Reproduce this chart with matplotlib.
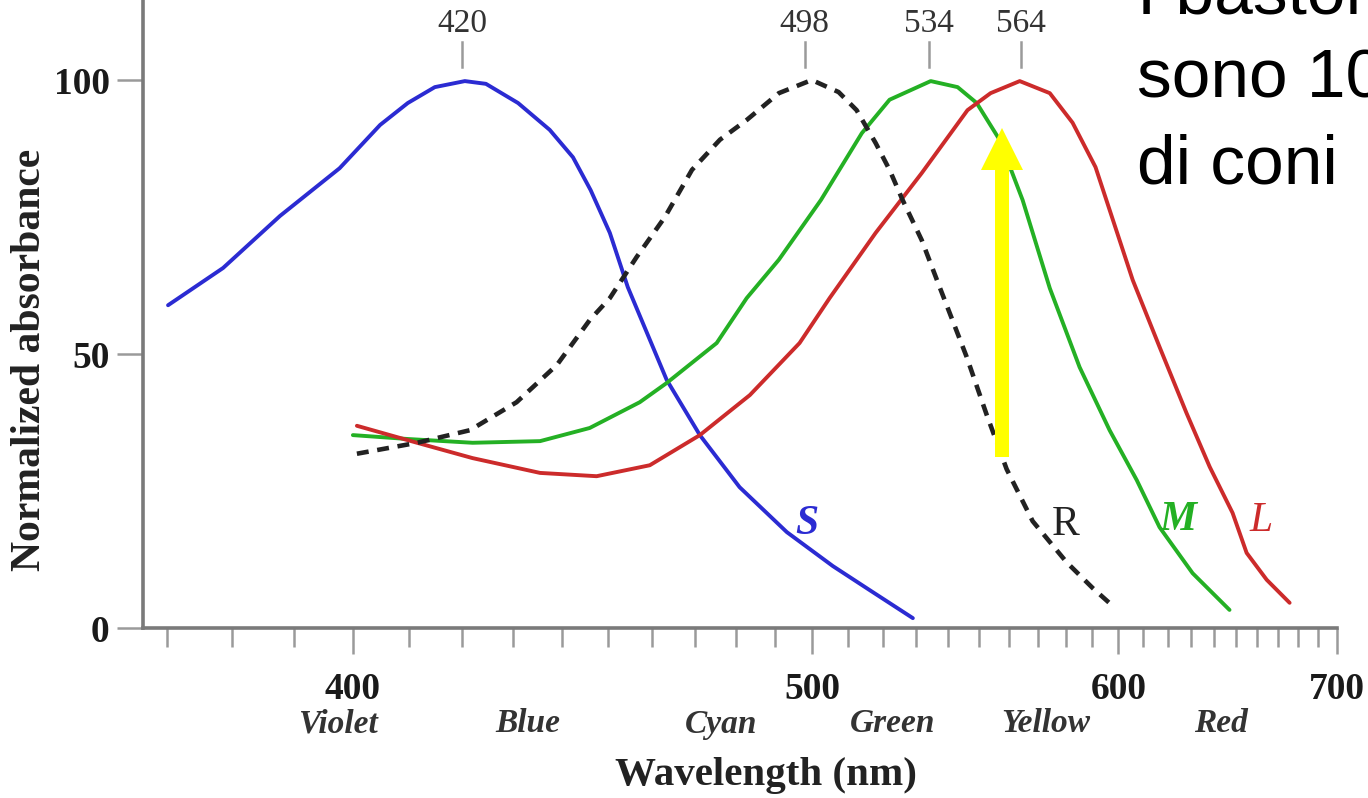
import numpy as np
import matplotlib
matplotlib.use("Agg")
import matplotlib.pyplot as plt
from matplotlib.patches import FancyArrow
from matplotlib.transforms import blended_transform_factory

# ---------------- data ----------------
s_wl = [370.2, 378.6, 387.7, 397.7, 404.8, 409.8, 414.8, 420.5, 424.6, 431.0, 437.5,
        442.4, 446.2, 450.4, 454.4, 463.3, 471.2, 481.0, 493.2, 505.7, 516.2, 529.0]
s_abs = [58.9, 65.7, 75.2, 83.9, 91.8, 95.8, 98.7, 99.8, 99.3, 95.8, 90.9,
         85.9, 79.9, 72.1, 62.2, 45.3, 35.2, 25.7, 17.5, 11.3, 6.9, 1.8]

r_wl = [400.7, 411.5, 421.5, 430.7, 439.0, 446.0, 450.4, 456.4, 462.9, 469.3, 476.1,
        482.8, 491.1, 499.9, 507.3, 512.4, 517.9, 522.0, 525.9, 531.7, 537.3, 545.9,
        552.5, 559.2, 568.2, 580.4, 590.1, 597.4]
r_abs = [31.8, 33.8, 36.1, 41.2, 48.0, 56.2, 60.2, 67.7, 75.0, 83.6, 89.1,
         92.7, 97.6, 100.0, 97.8, 94.5, 88.5, 83.6, 78.1, 70.8, 62.2, 49.5,
         38.9, 29.0, 19.5, 12.0, 7.3, 4.2]

m_wl = [400.0, 409.6, 422.0, 435.5, 446.0, 457.1, 463.3, 475.3, 482.8, 491.1, 502.4,
        513.9, 522.0, 534.5, 543.0, 549.2, 556.8, 564.7, 574.3, 585.2, 596.6, 607.3,
        616.6, 630.6, 647.0]
m_abs = [35.2, 34.5, 33.8, 34.1, 36.5, 41.2, 44.7, 52.0, 60.2, 67.2, 78.1,
         90.3, 96.4, 99.8, 98.7, 95.8, 89.1, 78.1, 62.0, 47.6, 36.1, 27.0,
         18.4, 10.0, 3.3]

l_wl = [400.7, 411.5, 422.0, 435.5, 447.5, 459.4, 471.2, 483.6, 496.6, 504.8, 517.9,
        531.7, 546.2, 553.8, 563.7, 574.3, 582.6, 591.2, 605.7, 616.6, 628.0, 638.1,
        648.4, 654.9, 664.4, 675.6]
l_abs = [36.9, 33.8, 31.0, 28.3, 27.7, 29.7, 35.2, 42.5, 52.0, 60.2, 72.1,
         83.0, 94.5, 97.6, 99.8, 97.6, 92.2, 84.1, 63.5, 51.3, 39.2, 29.4,
         21.0, 13.7, 8.8, 4.6]

peak_wl = [420, 498, 534, 564]
x_major = [400, 500, 600, 700]
x_minor = [w for w in range(370, 700, 10) if w not in (400, 500, 600)]
y_ticks = [0, 50, 100]
color_names = ["Violet", "Blue", "Cyan", "Green", "Yellow", "Red"]
color_name_wl = [397.4, 433.0, 476.3, 522.9, 572.8, 643.0]
curve_labels = ["S", "R", "M", "L"]
curve_label_wl = [498.5, 580.0, 624.2, 661.5]
curve_label_y = [19.0, 18.8, 19.7, 19.5]
right_text = ["I bastoncelli", "sono 10", "di coni"]

# ---------------- figure ----------------
plt.rcParams["font.family"] = ["Liberation Serif", "DejaVu Serif"]
W, H = 1368, 798
fig = plt.figure(figsize=(W / 100, H / 100), dpi=100)
fig.patch.set_facecolor("white")

ax = fig.add_axes([143 / W, (H - 628) / H, (1337 - 143) / W, 628 / H])


def fwd(x):
    x = np.asarray(x, dtype=float)
    with np.errstate(divide="ignore", invalid="ignore"):
        return -1.0 / x


def inv(v):
    v = np.asarray(v, dtype=float)
    with np.errstate(divide="ignore", invalid="ignore"):
        return -1.0 / v


ax.set_xscale("function", functions=(fwd, inv))
ax.set_xlim(366.5, 700)
ax.set_ylim(0, 628 / 5.48)

blue = "#2b2bd2"
green = "#24b024"
red = "#cc2b2b"
dark = "#222222"

kw = dict(lw=2.8, solid_capstyle="round", solid_joinstyle="round", zorder=3)
ax.plot(s_wl, s_abs, color=blue, **kw)
ax.plot(m_wl, m_abs, color=green, **kw)
ax.plot(l_wl, l_abs, color=red, **kw)
ax.plot(r_wl, r_abs, color=dark, lw=3.3, linestyle=(0, (2.6, 1.9)), zorder=3)

for sp in ("top", "right"):
    ax.spines[sp].set_visible(False)
for sp in ("left", "bottom"):
    ax.spines[sp].set_color("#7a7a7a")
    ax.spines[sp].set_linewidth(2.6)

ax.set_yticks(y_ticks)
ax.set_yticklabels([str(v) for v in y_ticks], fontweight="bold")
ax.tick_params(axis="y", direction="out", length=19, width=1.8, color="#9a9a9a",
               pad=5, labelsize=27, labelcolor="#1a1a1a")

ax.set_xticks(x_major)
ax.set_xticklabels([str(v) for v in x_major], fontweight="bold")
ax.set_xticks(x_minor, minor=True)
ax.tick_params(axis="x", which="major", direction="out", length=19, width=1.8,
               color="#9a9a9a", pad=13, labelsize=27, labelcolor="#1a1a1a")
ax.tick_params(axis="x", which="minor", direction="out", length=14, width=1.8,
               color="#9a9a9a")

# peak markers at the top
for wl in peak_wl:
    ax.plot([wl, wl], [102.4, 106.9], color="#9a9a9a", lw=1.8, clip_on=False)
    ax.text(wl, 110.2, str(wl), ha="center", va="center", fontsize=24,
            color="#333333", clip_on=False)

# colour names under the axis
tr = blended_transform_factory(ax.transData, ax.transAxes)
for name, wl in zip(color_names, color_name_wl):
    ax.text(wl, (628 - 724) / 628, name, transform=tr, ha="center", va="center",
            fontsize=24, style="italic", fontweight="bold", color="#333333")

# curve labels
lab_colors = [blue, dark, green, red]
lab_style = ["italic", "normal", "italic", "italic"]
lab_weight = ["bold", "normal", "bold", "normal"]
for t, wl, yv, c, st, fw in zip(curve_labels, curve_label_wl, curve_label_y,
                                lab_colors, lab_style, lab_weight):
    ax.text(wl, yv, t, ha="center", va="center", fontsize=30, color=c,
            style=st, fontweight=fw)

# axis titles
fig.text(766 / W, 1 - 775 / H, "Wavelength (nm)", ha="center", va="center",
         fontsize=29.5, fontweight="bold", color="#222222")
fig.text(30 / W, 1 - 360 / H, "Normalized absorbance", ha="center", va="center",
         rotation=90, fontsize=30, fontweight="bold", color="#222222")

# slide text on the right (cut by the image edge, as in the reference)
for i, line in enumerate(right_text):
    fig.text(1137 / W, 1 - (13 + 85 * i) / H, line, ha="left", va="baseline",
             fontsize=50, family=["Liberation Sans", "DejaVu Sans"], color="black")

# yellow arrow overlay
arrow = FancyArrow(1002 / W, 1 - 457 / H, 0, (457 - 128) / H,
                   width=14 / W, head_width=42 / W, head_length=42 / H,
                   length_includes_head=True, transform=fig.transFigure,
                   color="#ffff00", ec="none", zorder=10)
fig.patches.append(arrow)

fig.savefig("out.png", dpi=100, facecolor="white")
